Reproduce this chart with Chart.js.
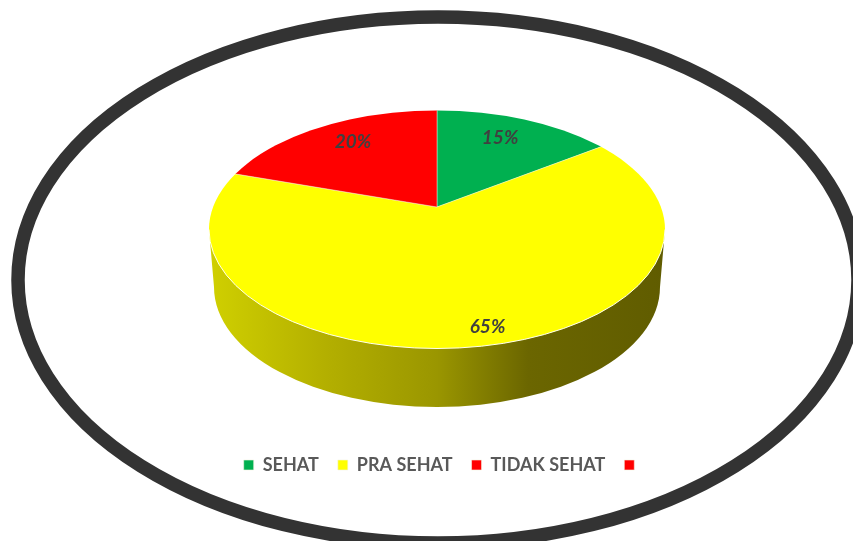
<!DOCTYPE html>
<html>
<head>
<meta charset="utf-8">
<style>
  html, body { margin: 0; padding: 0; background: #fff; }
  #wrap { width: 853px; height: 541px; position: relative; overflow: hidden; }
</style>
<script src="https://cdn.jsdelivr.net/npm/chart.js@4"></script>
</head>
<body>
<div id="wrap"><canvas id="chart"></canvas></div>
<script>
const categories = ["SEHAT", "PRA SEHAT", "TIDAK SEHAT", ""];
const values = [15, 65, 20, 0];
const colors = ["#00b050", "#ffff00", "#ff0000", "#ff0000"];

// the 3D look: flat pie squashed around its apex, cut by the top face ellipse
const APEX = { x: 437, y: 207 };
const SQUASH = 0.505;
const TOP_FACE = { x: 437, y: 229.5, rx: 228, ry: 119 };
const BOTTOM_FACE = { x: 437, y: 287, rx: 223, ry: 120 };
const FRAME = { x: 438, y: 280, rx: 420, ry: 263, width: 13.5, color: "#333333" };

const labelRadius = [139, 240, 143, 0];
const labelNudgeX = [0, 13, 0, 0];
const labelNudgeY = [-7, 0, -7, 0];

function ellipsePath(ctx, e) {
  ctx.beginPath();
  ctx.ellipse(e.x, e.y, e.rx, e.ry, 0, 0, Math.PI * 2);
}

function drawFrame(ctx) {
  ellipsePath(ctx, FRAME);
  ctx.lineWidth = FRAME.width;
  ctx.strokeStyle = FRAME.color;
  ctx.stroke();
}

function drawWall(ctx) {
  const g = ctx.createLinearGradient(TOP_FACE.x - TOP_FACE.rx, 0, TOP_FACE.x + TOP_FACE.rx, 0);
  g.addColorStop(0, "#d0d000");
  g.addColorStop(0.25, "#b4b000");
  g.addColorStop(0.5, "#9a9600");
  g.addColorStop(0.7, "#6b6600");
  g.addColorStop(1, "#605c00");
  ctx.fillStyle = g;
  ctx.beginPath();
  ctx.moveTo(TOP_FACE.x - TOP_FACE.rx, TOP_FACE.y);
  ctx.lineTo(BOTTOM_FACE.x - BOTTOM_FACE.rx, BOTTOM_FACE.y);
  ctx.ellipse(BOTTOM_FACE.x, BOTTOM_FACE.y, BOTTOM_FACE.rx, BOTTOM_FACE.ry, 0, Math.PI, 0, true);
  ctx.lineTo(TOP_FACE.x + TOP_FACE.rx, TOP_FACE.y);
  ctx.closePath();
  ctx.fill();
}

const pie3d = {
  id: "pie3d",
  beforeDatasetsDraw(chart) {
    const ctx = chart.ctx;
    const arc = chart.getDatasetMeta(0).data[0];
    drawFrame(ctx);
    drawWall(ctx);
    ctx.save();
    ellipsePath(ctx, TOP_FACE);
    ctx.clip();
    ctx.translate(APEX.x, APEX.y);
    ctx.scale(1, SQUASH);
    ctx.translate(-arc.x, -arc.y);
  },
  afterDatasetsDraw(chart) {
    const ctx = chart.ctx;
    ctx.restore();

    // thin light rim where the top face meets the wall
    ctx.beginPath();
    ctx.ellipse(TOP_FACE.x, TOP_FACE.y, TOP_FACE.rx, TOP_FACE.ry, 0, 0, Math.PI);
    ctx.lineWidth = 1;
    ctx.strokeStyle = "#fffff0";
    ctx.stroke();

    // percent labels
    ctx.font = "italic bold 19px Lato, sans-serif";
    ctx.fillStyle = "#404040";
    ctx.textAlign = "center";
    ctx.textBaseline = "middle";
    chart.getDatasetMeta(0).data.forEach((el, i) => {
      if (!values[i]) return;
      const { startAngle, endAngle } = el.getProps(["startAngle", "endAngle"], true);
      const mid = (startAngle + endAngle) / 2;
      const px = APEX.x + Math.cos(mid) * labelRadius[i] + labelNudgeX[i];
      const py = APEX.y + Math.sin(mid) * labelRadius[i] * SQUASH + labelNudgeY[i];
      ctx.fillText(values[i] + "%", px, py);
    });
  },
};

new Chart(document.getElementById("chart"), {
  type: "pie",
  data: {
    labels: categories,
    datasets: [{
      data: values,
      backgroundColor: colors,
      borderColor: "#f4f4e0",
      borderWidth: 0.6,
      radius: 330,
      clip: false,
    }],
  },
  options: {
    responsive: true,
    maintainAspectRatio: false,
    animation: false,
    layout: { padding: { bottom: 57, left: 34 } },
    plugins: {
      tooltip: { enabled: false },
      legend: {
        position: "bottom",
        labels: {
          boxWidth: 10,
          boxHeight: 10,
          padding: 19,
          color: "#595959",
          font: { family: "Lato, sans-serif", size: 18, weight: "bold" },
        },
      },
    },
  },
  plugins: [pie3d],
});
</script>
</body>
</html>
